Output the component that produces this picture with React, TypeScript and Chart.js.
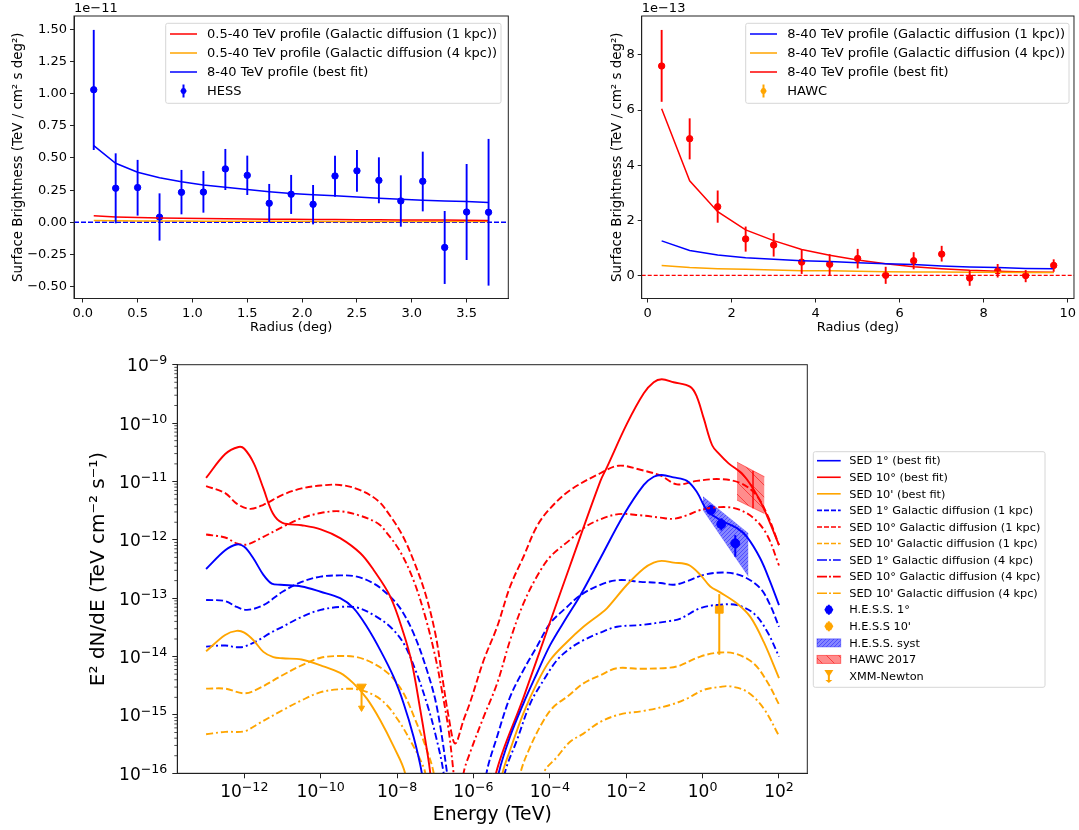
import React, { useEffect, useRef } from 'react';
import { Chart, registerables } from 'chart.js';
Chart.register(...registerables);

const FONT = '"DejaVu Sans"';
const BLUE = '#0000ff';
const RED = '#ff0000';
const ORANGE = '#ffa500';
const INK = '#222';
const DASH = [7, 3];
const DASHDOT = [7, 3, 2, 3];

// HESS radial profile, units of 1e-11
const hessRadius = [0.1, 0.3, 0.5, 0.7, 0.9, 1.1, 1.3, 1.5, 1.7, 1.9, 2.1, 2.3, 2.5, 2.7, 2.9, 3.1, 3.3, 3.5, 3.7];
const hessValue = [1.03, 0.265, 0.27, 0.04, 0.233, 0.235, 0.415, 0.365, 0.148, 0.218, 0.14, 0.36, 0.4, 0.326, 0.166, 0.319, -0.195, 0.08, 0.078];
const hessHigh = [1.495, 0.536, 0.485, 0.225, 0.407, 0.399, 0.57, 0.518, 0.298, 0.368, 0.29, 0.518, 0.562, 0.505, 0.365, 0.549, 0.088, 0.453, 0.648];
const hessLow = [0.562, -0.008, 0.052, -0.142, 0.062, 0.075, 0.251, 0.212, -0.003, 0.065, -0.016, 0.199, 0.238, 0.148, -0.034, 0.085, -0.479, -0.293, -0.492];
const hessBestFit = [0.596, 0.459, 0.389, 0.347, 0.316, 0.29, 0.272, 0.254, 0.238, 0.223, 0.215, 0.207, 0.197, 0.187, 0.179, 0.171, 0.166, 0.161, 0.153];
const hessGal1 = [0.05, 0.042, 0.037, 0.034, 0.031, 0.029, 0.027, 0.025, 0.024, 0.023, 0.022, 0.021, 0.02, 0.019, 0.018, 0.017, 0.017, 0.016, 0.015];
const hessGal4 = [0.014, 0.012, 0.011, 0.01, 0.0095, 0.009, 0.0085, 0.008, 0.0078, 0.0075, 0.0072, 0.007, 0.0068, 0.0065, 0.0062, 0.006, 0.0058, 0.0056, 0.0054];

// HAWC radial profile, units of 1e-13
const hawcRadius = [0.333, 1, 1.667, 2.333, 3, 3.667, 4.333, 5, 5.667, 6.333, 7, 7.667, 8.333, 9, 9.667];
const hawcValue = [7.6, 4.96, 2.49, 1.32, 1.1, 0.48, 0.4, 0.61, 0, 0.53, 0.77, -0.1, 0.16, -0.01, 0.36];
const hawcHigh = [8.91, 5.7, 3.08, 1.77, 1.53, 0.94, 0.77, 0.96, 0.31, 0.84, 1.07, 0.17, 0.41, 0.19, 0.58];
const hawcLow = [6.3, 4.21, 1.91, 0.86, 0.68, 0.05, 0.01, 0.25, -0.31, 0.22, 0.5, -0.38, -0.08, -0.25, 0.13];
const hawcBestFit = [6.05, 3.43, 2.31, 1.65, 1.26, 0.94, 0.73, 0.56, 0.42, 0.31, 0.24, 0.18, 0.15, 0.12, 0.11];
const hawcGal1 = [1.25, 0.9, 0.74, 0.64, 0.58, 0.53, 0.5, 0.46, 0.42, 0.39, 0.34, 0.3, 0.28, 0.25, 0.24];
const hawcGal4 = [0.36, 0.28, 0.24, 0.22, 0.19, 0.17, 0.17, 0.15, 0.13, 0.12, 0.12, 0.11, 0.11, 0.1, 0.1];

// SED curves: [log10 energy, log10 flux]
type Pair = [number, number];
const sed1Best: Pair[] = [[-13, -12.5], [-12.5, -12.18], [-12.2, -12.08], [-12, -12.12], [-11.76, -12.32], [-11.5, -12.6], [-11.28, -12.75], [-11.05, -12.77], [-10.5, -12.8], [-10, -12.89], [-9.49, -13], [-9.14, -13.17], [-8.79, -13.49], [-8.44, -13.89], [-8.09, -14.35], [-7.83, -14.8], [-7.57, -15.37], [-7.35, -16], [-7, -17.5], [-5.8, -17.5], [-5.34, -16], [-5.04, -15.37], [-4.69, -14.8], [-4.34, -14.29], [-3.99, -13.8], [-3.55, -13.32], [-3.2, -12.95], [-2.68, -12.32], [-2.07, -11.58], [-1.54, -11.06], [-1.28, -10.92], [-1.07, -10.89], [-0.76, -10.93], [-0.41, -10.99], [-0.15, -11.18], [0.11, -11.49], [0.46, -11.66], [0.9, -11.8], [1.16, -11.95], [1.51, -12.32], [1.77, -12.72], [2, -13.12]];
const sed10Best: Pair[] = [[-13, -10.94], [-12.5, -10.53], [-12.15, -10.41], [-12, -10.44], [-11.75, -10.69], [-11.5, -11.12], [-11.25, -11.55], [-11, -11.71], [-10.5, -11.75], [-10, -11.82], [-9.49, -11.97], [-8.96, -12.23], [-8.61, -12.52], [-8.18, -12.97], [-7.83, -13.6], [-7.61, -14.12], [-7.39, -14.92], [-7.26, -15.43], [-7.13, -16], [-6.9, -17.5], [-5.8, -17.5], [-5.41, -16], [-4.7, -14.72], [-3.99, -13.4], [-3.47, -12.44], [-2.68, -11], [-2.5, -10.75], [-1.98, -10.01], [-1.54, -9.49], [-1.28, -9.3], [-1.07, -9.25], [-0.76, -9.3], [-0.32, -9.38], [-0.15, -9.55], [0.03, -9.92], [0.25, -10.38], [0.42, -10.52], [0.68, -10.69], [1.07, -10.89], [1.42, -11.23], [1.68, -11.58], [2, -12.09]];
const sed10mBest: Pair[] = [[-13, -13.91], [-12.5, -13.63], [-12.2, -13.56], [-12, -13.59], [-11.76, -13.72], [-11.5, -13.92], [-11.24, -14.01], [-11, -14.03], [-10.5, -14.05], [-10, -14.15], [-9.49, -14.28], [-9.14, -14.46], [-8.79, -14.72], [-8.44, -15.09], [-8.09, -15.54], [-7.79, -16], [-7.4, -17.5], [-5.7, -17.5], [-5.24, -16], [-5.04, -15.6], [-4.69, -14.97], [-4.34, -14.46], [-3.99, -14.06], [-3.55, -13.75], [-3.12, -13.49], [-2.68, -13.27], [-2.5, -13.17], [-1.98, -12.77], [-1.54, -12.49], [-1.28, -12.39], [-1.07, -12.36], [-0.76, -12.39], [-0.37, -12.43], [-0.06, -12.6], [0.2, -12.8], [0.46, -12.9], [0.9, -13.09], [1.25, -13.32], [1.6, -13.75], [2, -14.37]];
const sed1Gal1: Pair[] = [[-13, -13.03], [-12.5, -13.05], [-12.2, -13.15], [-11.93, -13.2], [-11.5, -13.12], [-11, -12.89], [-10.5, -12.72], [-10, -12.63], [-9.49, -12.61], [-9.05, -12.63], [-8.61, -12.75], [-8.27, -12.92], [-7.92, -13.17], [-7.57, -13.6], [-7.22, -14.23], [-6.96, -14.86], [-6.69, -16], [-6.4, -17.5], [-6, -17.5], [-5.66, -16], [-5.38, -15.37], [-5.04, -14.69], [-4.69, -14.23], [-4.34, -13.83], [-3.99, -13.43], [-3.55, -13.15], [-3.2, -12.95], [-2.68, -12.77], [-2.2, -12.69], [-1.63, -12.72], [-1.1, -12.74], [-0.76, -12.77], [-0.41, -12.71], [0.03, -12.6], [0.59, -12.56], [1.07, -12.63], [1.51, -12.83], [1.77, -13.12], [2, -13.49]];
const sed10Gal1: Pair[] = [[-13, -11.08], [-12.5, -11.2], [-12.2, -11.38], [-11.85, -11.47], [-11.5, -11.4], [-11, -11.23], [-10.5, -11.12], [-10, -11.07], [-9.5, -11.06], [-9, -11.14], [-8.5, -11.33], [-8.19, -11.58], [-7.87, -11.91], [-7.57, -12.35], [-7.26, -12.92], [-7, -13.6], [-6.83, -14.29], [-6.65, -15.03], [-6.48, -15.49], [-6.26, -15.09], [-6.08, -14.77], [-5.73, -14.06], [-5.38, -13.49], [-5.04, -12.8], [-4.69, -12.29], [-4.34, -11.77], [-3.99, -11.46], [-3.47, -11.15], [-2.68, -10.86], [-2.2, -10.73], [-1.63, -10.8], [-1.1, -10.9], [-0.67, -11.05], [-0.15, -10.99], [0.46, -10.96], [1, -11.03], [1.4, -11.23], [1.7, -11.58], [2, -12.09]];
const sed10mGal1: Pair[] = [[-13, -14.55], [-12.5, -14.55], [-12, -14.63], [-11.63, -14.55], [-11, -14.32], [-10.5, -14.15], [-10, -14.02], [-9.49, -13.99], [-9.05, -14.01], [-8.61, -14.12], [-8.18, -14.32], [-7.83, -14.63], [-7.52, -15.09], [-7.22, -15.6], [-7.04, -16], [-6.7, -17.5], [-5.2, -17.5], [-4.77, -16], [-4.51, -15.54], [-4.16, -15.09], [-3.9, -14.86], [-3.55, -14.69], [-3.12, -14.46], [-2.68, -14.32], [-2.24, -14.2], [-1.63, -14.21], [-0.85, -14.19], [-0.58, -14.15], [-0.06, -14], [0.46, -13.93], [0.9, -13.96], [1.34, -14.12], [1.69, -14.43], [2, -14.82]];
const sed1Gal4: Pair[] = [[-13, -13.83], [-12.5, -13.81], [-12.2, -13.84], [-12, -13.83], [-11.63, -13.72], [-11.33, -13.6], [-11, -13.49], [-10.5, -13.32], [-10, -13.2], [-9.49, -13.15], [-9.05, -13.16], [-8.61, -13.29], [-8.18, -13.49], [-7.83, -13.77], [-7.52, -14.23], [-7.22, -14.8], [-7, -15.32], [-6.78, -16], [-6.5, -17.5], [-5.6, -17.5], [-5.18, -16], [-4.86, -15.43], [-4.51, -14.8], [-4.16, -14.4], [-3.81, -14.06], [-3.47, -13.86], [-3.12, -13.72], [-2.68, -13.59], [-2.24, -13.49], [-1.63, -13.46], [-0.85, -13.39], [-0.58, -13.35], [-0.06, -13.17], [0.46, -13.11], [0.9, -13.12], [1.34, -13.26], [1.69, -13.57], [2, -14]];
const sed10Gal4: Pair[] = [[-13, -11.91], [-12.5, -11.96], [-12.2, -12.06], [-11.93, -12.08], [-11.5, -11.95], [-11, -11.78], [-10.5, -11.63], [-10, -11.54], [-9.5, -11.51], [-9, -11.58], [-8.5, -11.72], [-8.27, -11.88], [-7.92, -12.2], [-7.57, -12.69], [-7.26, -13.32], [-7, -14], [-6.83, -14.57], [-6.65, -15.26], [-6.52, -16], [-6.4, -16.8], [-6.26, -16], [-6.08, -15.63], [-5.73, -15.03], [-5.38, -14.46], [-5.04, -13.72], [-4.69, -13.09], [-4.34, -12.63], [-3.99, -12.29], [-3.47, -12], [-3.12, -11.8], [-2.72, -11.66], [-2.2, -11.56], [-1.63, -11.58], [-1.1, -11.62], [-0.76, -11.64], [-0.41, -11.58], [-0.06, -11.49], [0.46, -11.44], [0.9, -11.47], [1.34, -11.63], [1.69, -11.92], [2, -12.44]];
const sed10mGal4: Pair[] = [[-13, -15.33], [-12.5, -15.29], [-12, -15.28], [-11.63, -15.15], [-11, -14.92], [-10.5, -14.75], [-10, -14.61], [-9.49, -14.56], [-9.05, -14.56], [-8.61, -14.66], [-8.27, -14.83], [-7.92, -15.14], [-7.66, -15.43], [-7.39, -15.77], [-7.26, -16], [-6.9, -17.5], [-4.6, -17.5], [-4.16, -16], [-3.81, -15.72], [-3.47, -15.46], [-3.12, -15.32], [-2.68, -15.12], [-2.16, -14.99], [-1.54, -14.93], [-0.85, -14.83], [-0.41, -14.72], [0.03, -14.57], [0.46, -14.52], [0.72, -14.51], [1.16, -14.6], [1.6, -14.89], [2, -15.36]];

// measured SED points, log10 as well
const hess1Energy = [0.22, 0.49, 0.855];
const hess1Flux = [-11.49, -11.73, -12.06];
const hess1High = [-11.4, -11.63, -11.92];
const hess1Low = [-11.58, -11.84, -12.29];
const hess10Energy = [0.436];
const hess10Flux = [-13.19];
const hess10High = [-12.93];
const hess10Low = [-13.97];
const xmmEnergy = [-8.93, -8.93];
const xmmFlux = [-14.52, -14.88];
const hessBandUpper: Pair[] = [[0.01, -11.26], [1.2, -11.89]];
const hessBandLower: Pair[] = [[0.01, -11.49], [1.2, -12.63]];
const hawcBandUpper: Pair[] = [[0.9, -10.67], [1.62, -10.92]];
const hawcBandLower: Pair[] = [[0.9, -11.32], [1.62, -11.55]];
const hawcBandEdge: Pair[] = [[1.32, -10.82], [1.32, -11.46]];

const sedXTicks = [-12, -10, -8, -6, -4, -2, 0, 2];
const sedYTicks = [-9, -10, -11, -12, -13, -14, -15, -16];
const hessXTicks = [0, 0.5, 1, 1.5, 2, 2.5, 3, 3.5];
const hessYTicks = [-0.5, -0.25, 0, 0.25, 0.5, 0.75, 1, 1.25, 1.5];
const hawcXTicks = [0, 2, 4, 6, 8, 10];
const hawcYTicks = [0, 2, 4, 6, 8];

const logPoints = (pairs: Pair[]) => pairs.map(([x, y]) => ({ x: 10 ** x, y: 10 ** y }));
const zipPoints = (xs: number[], ys: number[]) => xs.map((x, i) => ({ x, y: ys[i] }));
const pow10 = (values: number[]) => values.map((v) => 10 ** v);

const hatch = (bg: string, ink: string, size: number, width: number, down: boolean) => {
	const c = document.createElement('canvas');
	c.width = size;
	c.height = size;
	const ctx = c.getContext('2d')!;
	ctx.fillStyle = bg;
	ctx.fillRect(0, 0, size, size);
	ctx.strokeStyle = ink;
	ctx.lineWidth = width;
	for (const off of [-size, 0, size]) {
		ctx.beginPath();
		if (down) {
			ctx.moveTo(off, 0);
			ctx.lineTo(off + size, size);
		} else {
			ctx.moveTo(off, size);
			ctx.lineTo(off + size, 0);
		}
		ctx.stroke();
	}
	return ctx.createPattern(c, 'repeat')!;
};

const errorBars = {
	id: 'errorBars',
	afterDatasetsDraw(chart: any) {
		const { ctx, scales } = chart;
		chart.data.datasets.forEach((ds: any) => {
			if (!ds.errHigh) return;
			ctx.save();
			ctx.strokeStyle = ds.errColor;
			ctx.lineWidth = ds.errWidth;
			ds.errHigh.forEach((hi: number, i: number) => {
				if (hi === null) return;
				const x = scales.x.getPixelForValue(ds.data[i].x);
				ctx.beginPath();
				ctx.moveTo(x, scales.y.getPixelForValue(hi));
				ctx.lineTo(x, scales.y.getPixelForValue(ds.errLow[i]));
				ctx.stroke();
			});
			ctx.restore();
		});
	},
};

// chart.js only draws the bottom and left spines
const boxFrame = {
	id: 'boxFrame',
	afterDatasetsDraw(chart: any) {
		const { ctx, chartArea: a } = chart;
		ctx.save();
		ctx.strokeStyle = INK;
		ctx.lineWidth = 1;
		ctx.strokeRect(a.left, a.top, a.right - a.left, a.bottom - a.top);
		ctx.restore();
	},
};

// matplotlib style boxed legend and the axis offset text
const boxLegend = {
	id: 'boxLegend',
	afterDraw(chart: any, _args: any, opts: any) {
		const { ctx } = chart;
		ctx.save();
		ctx.fillStyle = 'rgba(255,255,255,0.8)';
		ctx.strokeStyle = '#d6d6d6';
		ctx.lineWidth = 1;
		ctx.beginPath();
		ctx.roundRect(opts.x, opts.y, opts.w, opts.h, 2);
		ctx.fill();
		ctx.stroke();
		ctx.font = `${opts.fontSize}px ${FONT}`;
		ctx.textBaseline = 'middle';
		opts.items.forEach((item: any, i: number) => {
			const y = opts.firstRow + i * opts.rowStep;
			const x0 = opts.handleX;
			const x1 = opts.handleX + opts.handleW;
			const mid = (x0 + x1) / 2;
			ctx.setLineDash([]);
			ctx.strokeStyle = item.color;
			ctx.fillStyle = item.color;
			if (item.kind === 'line') {
				ctx.lineWidth = opts.lineWidth;
				ctx.setLineDash(item.dash ?? []);
				ctx.beginPath();
				ctx.moveTo(x0, y);
				ctx.lineTo(x1, y);
				ctx.stroke();
				ctx.setLineDash([]);
			} else if (item.kind === 'patch') {
				ctx.fillStyle = item.fill;
				ctx.fillRect(x0, y - 4, x1 - x0, 8);
				ctx.lineWidth = 1;
				ctx.strokeStyle = item.color;
				ctx.strokeRect(x0, y - 4, x1 - x0, 8);
			} else if (item.kind === 'triangle') {
				ctx.lineWidth = 2;
				ctx.beginPath();
				ctx.moveTo(mid, y - 5);
				ctx.lineTo(mid, y + 5);
				ctx.stroke();
				ctx.beginPath();
				ctx.moveTo(mid - 4.5, y - 6);
				ctx.lineTo(mid + 4.5, y - 6);
				ctx.lineTo(mid, y + 1);
				ctx.closePath();
				ctx.fill();
				ctx.beginPath();
				ctx.moveTo(mid - 3.5, y + 4);
				ctx.lineTo(mid + 3.5, y + 4);
				ctx.lineTo(mid, y + 7);
				ctx.closePath();
				ctx.fill();
			} else {
				ctx.lineWidth = 2;
				ctx.beginPath();
				ctx.moveTo(mid, y - item.err);
				ctx.lineTo(mid, y + item.err);
				ctx.stroke();
				ctx.beginPath();
				for (let k = 0; k < 6; k++) {
					const a = (Math.PI / 3) * k + (item.flat ? 0 : Math.PI / 6);
					const px = mid + item.r * Math.cos(a);
					const py = y + item.r * Math.sin(a);
					if (k === 0) ctx.moveTo(px, py);
					else ctx.lineTo(px, py);
				}
				ctx.closePath();
				ctx.fill();
			}
			ctx.fillStyle = '#000';
			ctx.textAlign = 'left';
			ctx.fillText(item.label, opts.textX, y + 0.8);
		});
		if (opts.offsetText) {
			ctx.fillStyle = '#000';
			ctx.textAlign = 'left';
			ctx.fillText(opts.offsetText, chart.chartArea.left, 9);
		}
		ctx.restore();
	},
};

const minorTicks = {
	id: 'minorTicks',
	afterDraw(chart: any) {
		const { ctx, scales, chartArea } = chart;
		ctx.save();
		ctx.strokeStyle = INK;
		ctx.lineWidth = 0.8;
		for (let exp = -16; exp < -9; exp++) {
			for (let m = 2; m < 10; m++) {
				const y = scales.y.getPixelForValue(m * 10 ** exp);
				ctx.beginPath();
				ctx.moveTo(chartArea.left - 3, y);
				ctx.lineTo(chartArea.left, y);
				ctx.stroke();
			}
		}
		ctx.restore();
	},
};

// 10^n labels with a real raised exponent
const powerTicks = {
	id: 'powerTicks',
	afterDraw(chart: any) {
		const { ctx, scales, chartArea } = chart;
		const BASE = `17px ${FONT}`;
		const EXP = `12.6px ${FONT}`;
		const label = (exp: number, x: number, baseline: number, align: 'center' | 'right') => {
			const power = `−${Math.abs(exp)}`;
			const text = exp < 0 ? power : String(exp);
			ctx.font = BASE;
			const w10 = ctx.measureText('10').width;
			ctx.font = EXP;
			const wExp = ctx.measureText(text).width;
			const left = align === 'center' ? x - (w10 + wExp) / 2 : x - w10 - wExp;
			ctx.font = BASE;
			ctx.fillText('10', left, baseline);
			ctx.font = EXP;
			ctx.fillText(text, left + w10, baseline - 6.8);
		};
		ctx.save();
		ctx.fillStyle = '#000';
		ctx.textAlign = 'left';
		ctx.textBaseline = 'alphabetic';
		sedXTicks.forEach((e) => label(e, scales.x.getPixelForValue(10 ** e), chartArea.bottom + 24, 'center'));
		sedYTicks.forEach((e) => label(e, chartArea.left - 10, scales.y.getPixelForValue(10 ** e) + 6.5, 'right'));
		ctx.restore();
	},
};

const frame = { color: INK, width: 1 };

const linearAxis = (opts: any) => ({
	type: 'linear',
	position: opts.position,
	min: opts.min,
	max: opts.max,
	afterBuildTicks: (s: any) => {
		s.ticks = opts.ticks.map((value: number) => ({ value }));
	},
	afterFit: opts.afterFit,
	border: frame,
	grid: { drawOnChartArea: false, tickColor: INK, tickLength: 4, tickWidth: 1 },
	ticks: {
		color: '#000',
		font: { family: FONT, size: 13 },
		padding: 3,
		maxRotation: 0,
		autoSkip: false,
		callback: opts.format,
	},
	title: { display: true, text: opts.title, color: '#000', font: { family: FONT, size: opts.titleSize ?? 13 }, padding: opts.titlePad },
});

const line = (label: string, data: any[], color: string, width: number, dash: number[] = []) => ({
	label,
	data,
	borderColor: color,
	backgroundColor: color,
	borderWidth: width,
	borderDash: dash,
	showLine: true,
	pointRadius: 0,
	tension: 0,
});

const curve = (label: string, pairs: Pair[], color: string, dash: number[] = []) => ({
	...line(label, logPoints(pairs), color, 1.9, dash),
	tension: 0.35,
});

const hessConfig = (): any => ({
	type: 'scatter',
	data: {
		datasets: [
			line('0.5-40 TeV profile (Galactic diffusion (1 kpc))', zipPoints(hessRadius, hessGal1), RED, 1.5),
			line('0.5-40 TeV profile (Galactic diffusion (4 kpc))', zipPoints(hessRadius, hessGal4), ORANGE, 1.5),
			line('8-40 TeV profile (best fit)', zipPoints(hessRadius, hessBestFit), BLUE, 1.5),
			line('zero', [{ x: -0.08, y: 0 }, { x: 3.88, y: 0 }], BLUE, 1.4, [5, 2]),
			{
				label: 'HESS',
				data: zipPoints(hessRadius, hessValue),
				backgroundColor: BLUE,
				borderColor: BLUE,
				pointRadius: 3.2,
				errHigh: hessHigh,
				errLow: hessLow,
				errColor: BLUE,
				errWidth: 1.9,
			},
		],
	},
	options: {
		responsive: false,
		animation: false,
		events: [],
		layout: { autoPadding: false, padding: { top: 16, right: 11.7, left: 0, bottom: 0 } },
		scales: {
			x: linearAxis({
				position: 'bottom', min: -0.08, max: 3.88, ticks: hessXTicks, title: 'Radius (deg)',
				format: (v: number) => v.toFixed(1),
				afterFit: (s: any) => { s.height = 41.5; },
				titlePad: { top: 0, bottom: 5 },
			}),
			y: linearAxis({
				position: 'left', min: -0.592, max: 1.603, ticks: hessYTicks, title: 'Surface Brightness (TeV / cm² s deg²)',
				titleSize: 13.4,
				format: (v: number) => v.toFixed(2).replace('-', '−'),
				afterFit: (s: any) => { s.width = 74; },
				titlePad: { top: 10, bottom: 0 },
			}),
		},
		plugins: {
			legend: { display: false },
			tooltip: { enabled: false },
			boxLegend: {
				x: 165.7, y: 23.3, w: 335.3, h: 80, firstRow: 34, rowStep: 19, handleX: 170, handleW: 27, textX: 207, fontSize: 13, lineWidth: 1.5,
				offsetText: '1e−11',
				items: [
					{ kind: 'line', color: RED, label: '0.5-40 TeV profile (Galactic diffusion (1 kpc))' },
					{ kind: 'line', color: ORANGE, label: '0.5-40 TeV profile (Galactic diffusion (4 kpc))' },
					{ kind: 'line', color: BLUE, label: '8-40 TeV profile (best fit)' },
					{ kind: 'point', color: BLUE, label: 'HESS', r: 3.2, err: 6.5 },
				],
			},
		},
	},
	plugins: [errorBars, boxFrame, boxLegend],
});

const hawcConfig = (): any => ({
	type: 'scatter',
	data: {
		datasets: [
			line('8-40 TeV profile (Galactic diffusion (1 kpc))', zipPoints(hawcRadius, hawcGal1), BLUE, 1.5),
			line('8-40 TeV profile (Galactic diffusion (4 kpc))', zipPoints(hawcRadius, hawcGal4), ORANGE, 1.5),
			line('8-40 TeV profile (best fit)', zipPoints(hawcRadius, hawcBestFit), RED, 1.5),
			line('zero', [{ x: -0.142, y: 0 }, { x: 10.15, y: 0 }], RED, 1.2, [4, 2]),
			{
				label: 'HAWC',
				data: zipPoints(hawcRadius, hawcValue),
				backgroundColor: RED,
				borderColor: RED,
				pointRadius: 3.2,
				errHigh: hawcHigh,
				errLow: hawcLow,
				errColor: RED,
				errWidth: 1.9,
			},
		],
	},
	options: {
		responsive: false,
		animation: false,
		events: [],
		layout: { autoPadding: false, padding: { top: 16, right: 3.3, left: 0, bottom: 0 } },
		scales: {
			x: linearAxis({
				position: 'bottom', min: -0.142, max: 10.15, ticks: hawcXTicks, title: 'Radius (deg)',
				format: (v: number) => String(v),
				afterFit: (s: any) => { s.height = 41.5; },
				titlePad: { top: 0, bottom: 5 },
			}),
			y: linearAxis({
				position: 'left', min: -0.842, max: 9.416, ticks: hawcYTicks, title: 'Surface Brightness (TeV / cm² s deg²)',
				titleSize: 13.4,
				format: (v: number) => String(v),
				afterFit: (s: any) => { s.width = 41.7; },
				titlePad: { top: 9, bottom: 0 },
			}),
		},
		plugins: {
			legend: { display: false },
			tooltip: { enabled: false },
			boxLegend: {
				x: 145.7, y: 23.3, w: 323.3, h: 80, firstRow: 34, rowStep: 19, handleX: 150, handleW: 27, textX: 187.3, fontSize: 13, lineWidth: 1.5,
				offsetText: '1e−13',
				items: [
					{ kind: 'line', color: BLUE, label: '8-40 TeV profile (Galactic diffusion (1 kpc))' },
					{ kind: 'line', color: ORANGE, label: '8-40 TeV profile (Galactic diffusion (4 kpc))' },
					{ kind: 'line', color: RED, label: '8-40 TeV profile (best fit)' },
					{ kind: 'point', color: ORANGE, label: 'HAWC', r: 3.2, err: 6.5 },
				],
			},
		},
	},
	plugins: [errorBars, boxFrame, boxLegend],
});

const sedConfig = (): any => {
	const hessFill = hatch('rgba(0,0,255,0.48)', 'rgba(0,0,255,0.6)', 4, 0.7, false);
	const hawcFill = hatch('rgba(255,0,0,0.45)', 'rgba(240,0,0,0.55)', 12, 1, true);
	return {
		type: 'scatter',
		data: {
			datasets: [
				curve('SED 1° (best fit)', sed1Best, BLUE),
				curve('SED 10° (best fit)', sed10Best, RED),
				curve("SED 10' (best fit)", sed10mBest, ORANGE),
				curve('SED 1° Galactic diffusion (1 kpc)', sed1Gal1, BLUE, DASH),
				curve('SED 10° Galactic diffusion (1 kpc)', sed10Gal1, RED, DASH),
				curve("SED 10' Galactic diffusion (1 kpc)", sed10mGal1, ORANGE, DASH),
				curve('SED 1° Galactic diffusion (4 kpc)', sed1Gal4, BLUE, DASHDOT),
				curve('SED 10° Galactic diffusion (4 kpc)', sed10Gal4, RED, DASHDOT),
				curve("SED 10' Galactic diffusion (4 kpc)", sed10mGal4, ORANGE, DASHDOT),
				{ ...line('H.E.S.S. syst', logPoints(hessBandUpper), 'rgba(0,0,255,0.4)', 0.5), fill: '+1', backgroundColor: hessFill },
				line('H.E.S.S. syst low', logPoints(hessBandLower), 'rgba(0,0,255,0.4)', 0.5),
				{ ...line('HAWC 2017', logPoints(hawcBandUpper), 'rgba(255,0,0,0.5)', 1), fill: '+1', backgroundColor: hawcFill },
				line('HAWC 2017 low', logPoints(hawcBandLower), 'rgba(255,0,0,0.5)', 1),
				line('HAWC 2017 edge', logPoints(hawcBandEdge), 'rgba(255,0,0,0.7)', 1),
				{
					label: 'H.E.S.S. 1°',
					data: zipPoints(pow10(hess1Energy), pow10(hess1Flux)),
					backgroundColor: BLUE,
					borderColor: BLUE,
					pointRadius: 4.5,
					errHigh: pow10(hess1High),
					errLow: pow10(hess1Low),
					errColor: BLUE,
					errWidth: 2,
				},
				{
					label: 'H.E.S.S 10\'',
					data: zipPoints(pow10(hess10Energy), pow10(hess10Flux)),
					backgroundColor: ORANGE,
					borderColor: ORANGE,
					pointStyle: 'rect',
					pointRadius: 5.5,
					errHigh: pow10(hess10High),
					errLow: pow10(hess10Low),
					errColor: ORANGE,
					errWidth: 2,
				},
				{
					label: 'XMM-Newton',
					data: zipPoints(pow10(xmmEnergy), pow10(xmmFlux)),
					backgroundColor: ORANGE,
					borderColor: ORANGE,
					pointStyle: 'triangle',
					rotation: 180,
					pointRadius: [5.5, 3.5],
					errHigh: [10 ** xmmFlux[0], null],
					errLow: [10 ** xmmFlux[1], null],
					errColor: ORANGE,
					errWidth: 2,
				},
			],
		},
		options: {
			responsive: false,
			animation: false,
			events: [],
			layout: { autoPadding: false, padding: { top: 19.7, right: 271.7, left: 0, bottom: 0 } },
			scales: {
				x: {
					type: 'logarithmic',
					min: 10 ** -13.754,
					max: 10 ** 2.741,
					afterBuildTicks: (s: any) => {
						s.ticks = sedXTicks.map((e) => ({ value: 10 ** e }));
					},
					afterFit: (s: any) => { s.height = 56.7; },
					border: frame,
					grid: { drawOnChartArea: false, tickColor: INK, tickLength: 5, tickWidth: 1 },
					ticks: { display: false },
					title: { display: true, text: 'Energy (TeV)', color: '#000', font: { family: FONT, size: 18.8 }, padding: { top: 0, bottom: 4 } },
				},
				y: {
					type: 'logarithmic',
					min: 1e-16,
					max: 1e-9,
					afterBuildTicks: (s: any) => {
						s.ticks = sedYTicks.map((e) => ({ value: 10 ** e }));
					},
					afterFit: (s: any) => { s.width = 177.3; },
					border: frame,
					grid: { drawOnChartArea: false, tickColor: INK, tickLength: 5, tickWidth: 1 },
					ticks: { display: false },
					title: { display: true, text: 'E² dN/dE (TeV cm⁻² s⁻¹)', color: '#000', font: { family: FONT, size: 20 }, padding: { top: 87, bottom: 0 } },
				},
			},
			plugins: {
				legend: { display: false },
				tooltip: { enabled: false },
				boxLegend: {
					x: 813.3, y: 106.7, w: 231.7, h: 235.6, firstRow: 115.7, rowStep: 16.56, handleX: 817, handleW: 23.7, textX: 849.3, fontSize: 11.3, lineWidth: 1.6,
					items: [
						{ kind: 'line', color: BLUE, label: 'SED 1° (best fit)' },
						{ kind: 'line', color: RED, label: 'SED 10° (best fit)' },
						{ kind: 'line', color: ORANGE, label: "SED 10' (best fit)" },
						{ kind: 'line', color: BLUE, dash: [5, 2], label: 'SED 1° Galactic diffusion (1 kpc)' },
						{ kind: 'line', color: RED, dash: [5, 2], label: 'SED 10° Galactic diffusion (1 kpc)' },
						{ kind: 'line', color: ORANGE, dash: [5, 2], label: "SED 10' Galactic diffusion (1 kpc)" },
						{ kind: 'line', color: BLUE, dash: [10, 2, 2, 2], label: 'SED 1° Galactic diffusion (4 kpc)' },
						{ kind: 'line', color: RED, dash: [10, 2, 2, 2], label: 'SED 10° Galactic diffusion (4 kpc)' },
						{ kind: 'line', color: ORANGE, dash: [10, 2, 2, 2], label: "SED 10' Galactic diffusion (4 kpc)" },
						{ kind: 'point', color: BLUE, label: 'H.E.S.S. 1°', r: 4.5, err: 5 },
						{ kind: 'point', color: ORANGE, flat: true, label: "H.E.S.S 10'", r: 4.5, err: 5 },
						{ kind: 'patch', color: 'rgba(0,0,255,0.4)', fill: hessFill, label: 'H.E.S.S. syst' },
						{ kind: 'patch', color: 'rgba(255,0,0,0.5)', fill: hawcFill, label: 'HAWC 2017' },
						{ kind: 'triangle', color: ORANGE, label: 'XMM-Newton' },
					],
				},
			},
		},
		plugins: [errorBars, boxFrame, minorTicks, powerTicks, boxLegend],
	};
};

type PanelProps = { left: number; top: number; width: number; height: number; build: () => any };

const Panel = ({ left, top, width, height, build }: PanelProps) => {
	const ref = useRef<HTMLCanvasElement>(null);

	useEffect(() => {
		const chart = new Chart(ref.current!, build());
		return () => chart.destroy();
		// eslint-disable-next-line
	}, []);

	return <canvas ref={ref} width={width} height={height} style={{ position: 'absolute', left, top, width, height }} />;
};

const App = () => (
	<div style={{ position: 'absolute', left: 0, top: 0, width: 1079, height: 830, overflow: 'hidden', background: '#fff' }}>
		<Panel left={0} top={0} width={520} height={340} build={hessConfig} />
		<Panel left={600} top={0} width={479} height={340} build={hawcConfig} />
		<Panel left={0} top={345} width={1079} height={485} build={sedConfig} />
	</div>
);

export default App;
